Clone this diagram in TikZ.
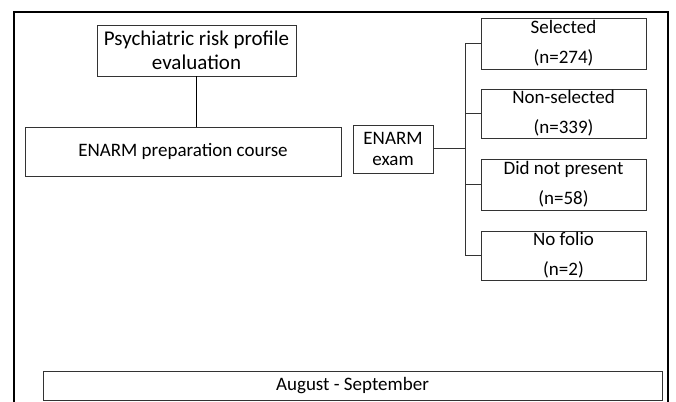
\documentclass[tikz,border=0pt]{standalone}
\usepackage{fontspec}
\setmainfont{Carlito}
\begin{document}
\begin{tikzpicture}[x=1pt,y=-1pt,
  box/.style={draw=black!80, line width=0.8pt, inner sep=0pt, align=center, font=\fontsize{19}{24}\selectfont},
  res/.style={box, minimum width=165pt, font=\fontsize{19}{30}\selectfont},
  conn/.style={draw=black!80, line width=0.8pt}]
\useasboundingbox (0,0) rectangle (676,401);
\draw[line width=2.5pt] (14,402) -- (14,12) -- (668,12) -- (668,402);
\node[box, minimum width=199pt, minimum height=51pt, font=\fontsize{21}{24}\selectfont] (psy) at (196.5,50.5) {Psychiatric risk profile\\evaluation};
\node[box, minimum width=316pt, minimum height=49pt] (prep) at (183,151.5) {ENARM preparation course};
\node[box, minimum width=80pt, minimum height=48pt, font=\fontsize{19}{21}\selectfont] (exam) at (393,149) {ENARM\\exam};
\node[res, minimum height=51pt] (sel) at (563.5,43.5) {Selected\\(n=274)};
\node[res, minimum height=49pt] (non) at (563.5,113.5) {Non-selected\\(n=339)};
\node[res, minimum height=51pt] (dnp) at (563.5,184.5) {Did not present\\(n=58)};
\node[res, minimum height=49pt] (nof) at (563.5,255.5) {No folio\\(n=2)};
\node[box, minimum width=619pt, minimum height=29pt] (aug) at (352.5,385.5) {August - September};
\draw[line width=1.6pt] (psy.south) -- (psy.south |- prep.north);
\coordinate (j) at (465,148);
\draw[conn] (exam.east |- j) -- (j);
\draw[conn] (j) |- (sel.west);
\draw[conn] (j) |- (non.west);
\draw[conn] (j) |- (dnp.west);
\draw[conn] (j) |- (nof.west);
\end{tikzpicture}
\end{document}
